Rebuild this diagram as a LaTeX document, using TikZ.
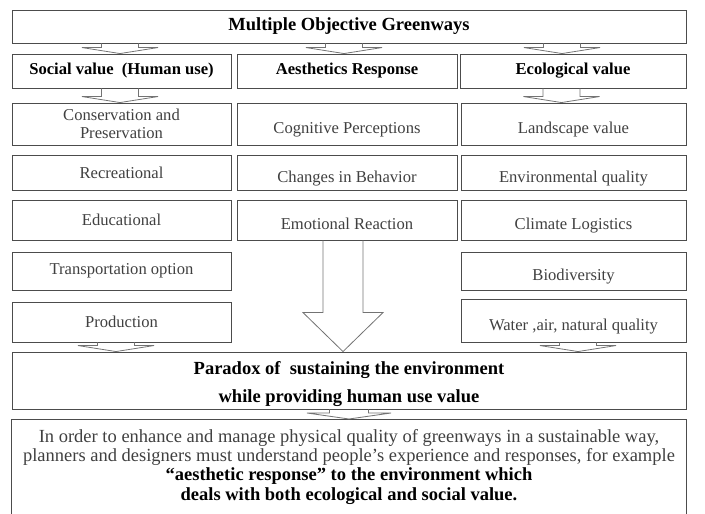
\documentclass[tikz,border=0pt]{standalone}
\usepackage{fontspec}
\setmainfont{Liberation Serif}
\usepackage{xcolor}
\usetikzlibrary{calc}

% flat block arrow: #1 x offset, #2 column node, #3 from, #4 to, #5 stem half, #6 head half, #7 head length
\newcommand{\blockarrow}[7]{%
  \path (#2.center |- #3.south) ++(#1,0) coordinate (s);
  \path (s |- #4.north) coordinate (t);
  \draw[flat] ($(s)+(-#5,0)$) -- ($(t)+(-#5,-#7)$) -- ($(t)+(-#6,-#7)$) -- (t)
    -- ($(t)+(#6,-#7)$) -- ($(t)+(#5,-#7)$) -- ($(s)+(#5,0)$);
}

\begin{document}
\begin{tikzpicture}[
    x=1pt, y=-1pt,
    box/.style={rectangle, draw=black!70, line width=0.9pt, inner ysep=0pt, inner xsep=3pt, align=center},
    item/.style={box, text=black!75, font=\fontsize{16.6}{18.5}\selectfont},
    head/.style={box, minimum height=34pt, font=\fontsize{16.6}{18.5}\selectfont\bfseries},
    wide/.style={minimum width=674pt},
    colA/.style={minimum width=219pt},
    colB/.style={minimum width=220pt},
    colC/.style={minimum width=225pt},
    lowered/.style={text height=23.6pt, text depth=4pt},
    flat/.style={draw=black!55, line width=0.8pt, line join=miter}
]
    \useasboundingbox (0,0) rectangle (705,514);
    \clip (0,0) rectangle (705,514);

    % Title
    \node[box, wide, minimum height=33pt, font=\fontsize{18.5}{20}\selectfont\bfseries] (title) at (349,26.5) {Multiple Objective Greenways};

    % Column headers
    \node[head, colA] (social) at (121.5,71) {Social value\ \ (Human use)};
    \node[head, colB] (aesth) at (347,71) {Aesthetics Response};
    \node[head, minimum width=226pt] (eco) at (573,71) {Ecological value};

    % Social column
    \node[item, colA, minimum height=42pt] (cons) at (121.5,124) {Conservation and\\Preservation};
    \node[item, colA, minimum height=35pt] (rec) at (121.5,172.5) {Recreational};
    \node[item, colA, minimum height=40pt] (edu) at (121.5,220) {Educational};
    \node[item, colA, minimum height=38pt] (trans) at (121.5,271) {Transportation option};
    \node[item, colA, minimum height=40pt] (prod) at (121.5,322) {Production};

    % Aesthetics column
    \node[item, colB, lowered, minimum height=42pt] (cog) at (347,124) {Cognitive Perceptions};
    \node[item, colB, lowered, minimum height=35pt] (chg) at (347,172.5) {Changes in Behavior};
    \node[item, colB, lowered, minimum height=40pt] (emo) at (347,220) {Emotional Reaction};

    % Ecological column
    \node[item, colC, lowered, minimum height=42pt] (land) at (573.5,124) {Landscape value};
    \node[item, colC, lowered, minimum height=35pt] (env) at (573.5,172.5) {Environmental quality};
    \node[item, colC, lowered, minimum height=40pt] (clim) at (573.5,220) {Climate Logistics};
    \node[item, colC, lowered, minimum height=38pt] (bio) at (573.5,271) {Biodiversity};
    \node[item, colC, lowered, minimum height=43pt] (water) at (573.5,320.5) {Water ,air, natural quality};

    % Paradox
    \node[box, wide, minimum height=57pt, font=\fontsize{18.5}{28}\selectfont\bfseries] (paradox) at (349,380.5)
        {\rule{0pt}{21pt}Paradox of\ \ sustaining the environment\\while providing human use value};

    % Conclusion (runs off the bottom edge)
    \node[wide, anchor=north, inner ysep=10pt, align=center, text=black!75, font=\fontsize{18.5}{19.3}\selectfont] (note) at (349,419)
        {In order to enhance and manage physical quality of greenways in a sustainable way,\\
         planners and designers must understand people’s experience and responses, for example\\
         \textcolor{black}{\bfseries “aesthetic response” to the environment which}\\
         \textcolor{black}{\bfseries deals with both ecological and social value.}};
    \draw[black!70, line width=0.9pt] (note.north west) rectangle ($(note.north east)+(0,120)$);

    % Arrows
    \blockarrow{-1.5}{social}{title}{social}{18.5}{38}{6}
    \blockarrow{-3}{aesth}{title}{aesth}{18.5}{38}{6}
    \blockarrow{-11}{eco}{title}{eco}{18.5}{38}{6}
    \blockarrow{-1.5}{social}{social}{cons}{18.5}{38}{6}
    \blockarrow{-11.5}{eco}{eco}{land}{18.5}{38}{6}
    \blockarrow{-4}{emo}{emo}{paradox}{20}{40}{39}
    \blockarrow{-5.5}{prod}{prod}{paradox}{18.5}{38}{6}
    \blockarrow{4.5}{water}{water}{paradox}{18.5}{38}{6}
    \blockarrow{0}{paradox}{paradox}{note}{19.5}{42}{6}
\end{tikzpicture}
\end{document}
